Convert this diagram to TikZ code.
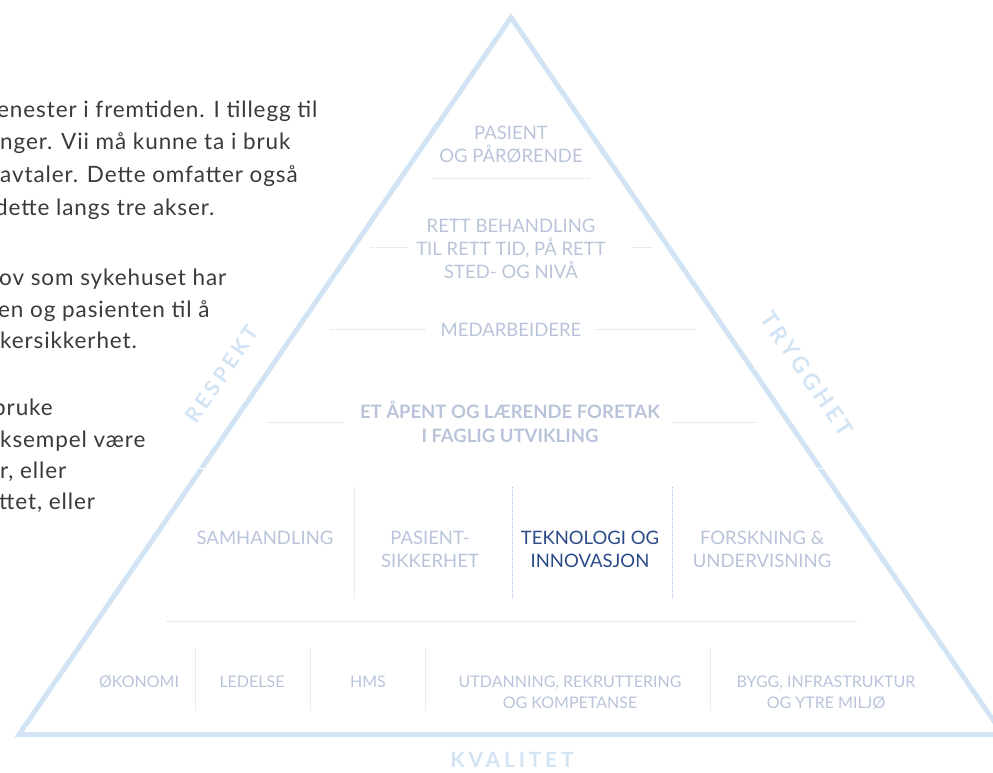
\documentclass[tikz,border=0pt]{standalone}
\usepackage{fontspec}
\setmainfont{Lato}
\newfontfamily\spacedfont[LetterSpace=18]{Lato}
\newfontfamily\bodyfont[LetterSpace=4]{Lato}
\definecolor{triblue}{HTML}{D2E4F4}
\definecolor{lblgray}{HTML}{B9C4DA}
\definecolor{navy}{HTML}{2B4A88}
\definecolor{dotblue}{HTML}{C6DAF0}
\definecolor{dotdark}{HTML}{9FBDE6}
\definecolor{bodytext}{HTML}{3A3A3A}

\begin{document}
\begin{tikzpicture}[x=1pt,y=-1pt,
lbl/.style={text=lblgray, font=\fontsize{18.5}{23}\selectfont, align=center, inner sep=0pt, anchor=base},
small/.style={text=lblgray, font=\fontsize{16}{21}\selectfont, align=center, inner sep=0pt, anchor=base},
side/.style={text=triblue, font=\spacedfont\bfseries\fontsize{21}{21}\selectfont, inner sep=0pt},
body/.style={text=bodytext, font=\bodyfont\fontsize{22.5}{32}\selectfont, inner sep=0pt, anchor=base west},
sep/.style={draw=dotblue, line width=0.8pt, dash pattern=on 0.7pt off 1.3pt},
gap/.style={draw=white, line width=1.2pt}]
\path[use as bounding box, clip] (0,0) rectangle (993,772);

\coordinate (apex) at (511,17.5);
\coordinate (bl) at (19,734.5);
\coordinate (br) at (1003,734.5);
\draw[triblue, line width=5pt, line join=miter] (apex) -- (bl) -- (br) -- cycle;
\draw[gap] (185,468.5) -- (215,468.5);
\draw[gap] (805,468.5) -- (840,468.5);

\draw (-3,117) node[body] (pA) {enester i fremtiden. I tillegg til};
\draw (0,149) node[body] (pB) {nger. Vii må kunne ta i bruk};
\draw (0,182) node[body] (pC) {avtaler. Dette omfatter også};
\draw (-5,215) node[body] (pD) {dette langs tre akser.};
\draw (-1,285) node[body] (pE) {ov som sykehuset har};
\draw (-2,317) node[body] (pF) {en og pasienten til å};
\draw (0,348) node[body] (pG) {kersikkerhet.};
\draw (-7,415) node[body] (pH) {bruke};
\draw (0,447) node[body] (pI) {ksempel være};
\draw (0,478) node[body] (pJ) {r, eller};
\draw (-1,509) node[body] (pK) {ttet, eller};

\draw (511,162) node[lbl] (tA) {PASIENT\\OG PÅRØRENDE};
\draw (511,278) node[lbl] (tB) {RETT BEHANDLING\\TIL RETT TID, PÅ RETT\\STED- OG NIVÅ};
\draw (511,336) node[lbl] (tC) {MEDARBEIDERE};
\draw (510,442) node[lbl, font=\bfseries\fontsize{18.5}{24}\selectfont] (tD) {ET ÅPENT OG LÆRENDE FORETAK\\I FAGLIG UTVIKLING};

\draw (265,544) node[lbl] (mA) {SAMHANDLING};
\draw (430,567) node[lbl] (mB) {PASIENT-\\SIKKERHET};
\draw (590,567) node[lbl, text=navy] (mC) {TEKNOLOGI OG\\INNOVASJON};
\draw (762,567) node[lbl] (mD) {FORSKNING \&\\UNDERVISNING};

\draw (139,687) node[small] (bA) {ØKONOMI};
\draw (252,687) node[small] (bB) {LEDELSE};
\draw (368,687) node[small] (bC) {HMS};
\draw (570,708) node[small] (bD) {UTDANNING, REKRUTTERING\\OG KOMPETANSE};
\draw (826,708) node[small] (bE) {BYGG, INFRASTRUKTUR\\OG YTRE MILJØ};

\draw (222,374) node[side, rotate=55.5] (respekt) {RESPEKT};
\draw (807,374) node[side, rotate=-55.5, font=\spacedfont\bfseries\fontsize{22.5}{22.5}\selectfont] (trygghet) {TRYGGHET};
\draw (512,760) node[side] (kvalitet) {KVALITET};

\draw[sep] (433,178) -- (591,178);
\draw[sep] (370,247) -- (408,247);
\draw[sep] (632,247) -- (652,247);
\draw[sep] (330,329) -- (425,329);
\draw[sep] (597,329) -- (697,329);
\draw[sep] (267,422) -- (345,422);
\draw[sep] (673,422) -- (757,422);

\draw[sep] (354,487) -- (354,598);
\draw[sep, draw=dotdark] (512,487) -- (512,598);
\draw[sep, draw=dotdark] (672,487) -- (672,598);
\draw[sep] (167,621) -- (858,621);

\draw[sep] (195,649) -- (195,711);
\draw[sep] (310,649) -- (310,711);
\draw[sep] (425,649) -- (425,711);
\draw[sep] (710,649) -- (710,711);

\end{tikzpicture}
\end{document}
